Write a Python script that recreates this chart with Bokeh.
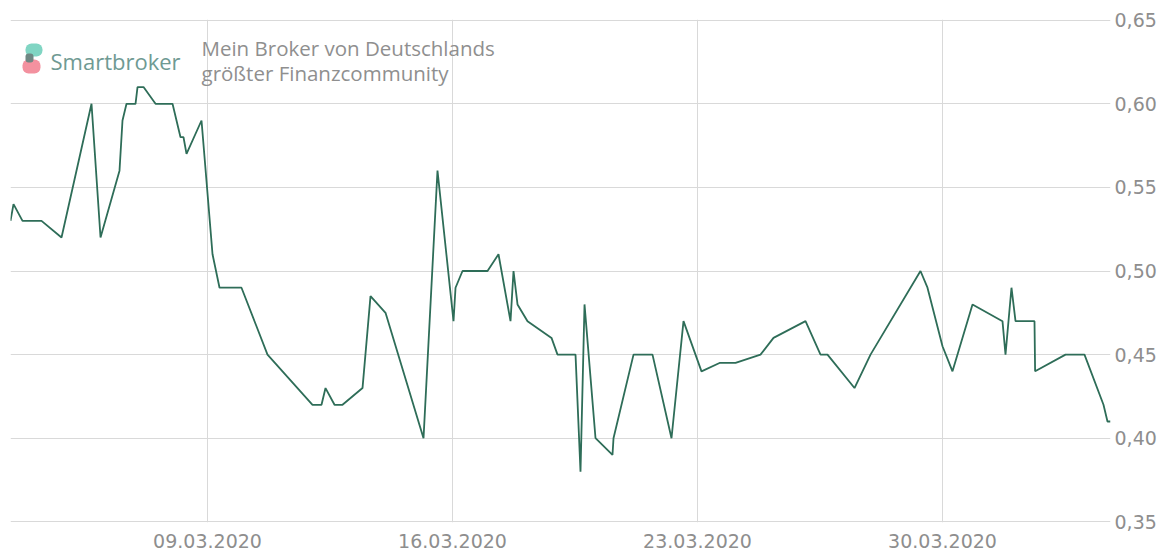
from bokeh.plotting import figure
from bokeh.models import (Range1d, FixedTicker, DatetimeTickFormatter, CustomJSTickFormatter,
                          Label, BoxAnnotation, ColumnDataSource)
from bokeh.embed import file_html
from bokeh.resources import INLINE
import pandas as pd

# ---- data ----
times = [
    "2020-03-03 08:54", "2020-03-03 10:58", "2020-03-03 17:08", "2020-03-04 06:10",
    "2020-03-04 19:53", "2020-03-05 16:27", "2020-03-05 22:38", "2020-03-06 11:39",
    "2020-03-06 13:42", "2020-03-06 16:27", "2020-03-06 22:38", "2020-03-07 00:00",
    "2020-03-07 04:07", "2020-03-07 12:21", "2020-03-08 00:00", "2020-03-08 05:29",
    "2020-03-08 07:32", "2020-03-08 09:36", "2020-03-08 19:53", "2020-03-09 03:26",
    "2020-03-09 08:14", "2020-03-09 23:18", "2020-03-10 17:08", "2020-03-12 00:00",
    "2020-03-12 06:10", "2020-03-12 08:55", "2020-03-12 15:05", "2020-03-12 20:34",
    "2020-03-13 10:17", "2020-03-13 15:46", "2020-03-14 02:04", "2020-03-15 04:07",
    "2020-03-15 13:42", "2020-03-16 00:41", "2020-03-16 02:04", "2020-03-16 06:51",
    "2020-03-17 00:00", "2020-03-17 07:32", "2020-03-17 15:46", "2020-03-17 17:50",
    "2020-03-17 20:34", "2020-03-18 03:26", "2020-03-18 19:53", "2020-03-19 00:00",
    "2020-03-19 12:21", "2020-03-19 15:46", "2020-03-19 18:31", "2020-03-20 02:04",
    "2020-03-20 13:42", "2020-03-20 14:24", "2020-03-21 04:07", "2020-03-21 17:08",
    "2020-03-22 06:10", "2020-03-22 14:24", "2020-03-23 02:44", "2020-03-23 15:05",
    "2020-03-24 02:04", "2020-03-24 19:12", "2020-03-25 04:07", "2020-03-26 02:04",
    "2020-03-26 12:21", "2020-03-26 17:08", "2020-03-27 11:39", "2020-03-27 22:38",
    "2020-03-29 08:54", "2020-03-29 13:42", "2020-03-30 00:00", "2020-03-30 06:51",
    "2020-03-30 20:34", "2020-03-31 17:08", "2020-03-31 19:12", "2020-03-31 23:18",
    "2020-04-01 02:04", "2020-04-01 15:05", "2020-04-01 15:30", "2020-04-02 12:21",
    "2020-04-03 01:22", "2020-04-03 14:24", "2020-04-03 17:08", "2020-04-03 19:12",
]
prices = [
    0.53, 0.54, 0.53, 0.53,
    0.52, 0.60, 0.52, 0.56,
    0.59, 0.60, 0.60, 0.61,
    0.61, 0.60, 0.60, 0.58,
    0.58, 0.57, 0.59, 0.51,
    0.49, 0.49, 0.45, 0.42,
    0.42, 0.43, 0.42, 0.42,
    0.43, 0.485, 0.475, 0.40,
    0.56, 0.47, 0.49, 0.50,
    0.50, 0.51, 0.47, 0.50,
    0.48, 0.47, 0.46, 0.45,
    0.45, 0.38, 0.48, 0.40,
    0.39, 0.40, 0.45, 0.45,
    0.40, 0.47, 0.44, 0.445,
    0.445, 0.45, 0.46, 0.47,
    0.45, 0.45, 0.43, 0.45,
    0.50, 0.49, 0.455, 0.44,
    0.48, 0.47, 0.45, 0.49,
    0.47, 0.47, 0.44, 0.45,
    0.45, 0.42, 0.41, 0.41,
]
x_tick_dates = ["2020-03-09", "2020-03-16", "2020-03-23", "2020-03-30"]
y_tick_values = [0.35, 0.40, 0.45, 0.50, 0.55, 0.60, 0.65]
brand_name = "Smartbroker"
tagline_lines = ["Mein Broker von Deutschlands", "größter Finanzcommunity"]

# ---- figure ----
t = pd.to_datetime(times)
src = ColumnDataSource(dict(t=t, price=prices))

pad = 0.0004  # keeps the outermost grid lines fully inside the frame
p = figure(width=1160, height=550, x_axis_type="datetime", y_axis_location="right",
           output_backend="svg", toolbar_location=None,
           x_range=Range1d(t[0].to_pydatetime(), t[-1].to_pydatetime()),
           y_range=Range1d(y_tick_values[0] - pad, y_tick_values[-1] + pad),
           min_border_left=10, min_border_right=50, min_border_top=19, min_border_bottom=27)
p.outline_line_color = None
p.background_fill_color = "white"
p.border_fill_color = "white"

label_color = "#8e8e8e"
grid_color = "#d9d9d9"

xa = p.xaxis[0]
xa.ticker = FixedTicker(ticks=[pd.Timestamp(d).value // 10**6 for d in x_tick_dates])
fmt = "%d.%m.%Y"
xa.formatter = DatetimeTickFormatter(microseconds=fmt, milliseconds=fmt, seconds=fmt, minsec=fmt,
                                     minutes=fmt, hourmin=fmt, hours=fmt, days=fmt, months=fmt, years=fmt)
ya = p.yaxis[0]
ya.ticker = FixedTicker(ticks=y_tick_values)
ya.formatter = CustomJSTickFormatter(code="return tick.toFixed(2).replace('.', ',');")

for ax in (xa, ya):
    ax.axis_line_color = None
    ax.major_tick_line_color = None
    ax.minor_tick_line_color = None
    ax.major_tick_out = 0
    ax.major_tick_in = 0
    ax.minor_tick_out = 0
    ax.minor_tick_in = 0
    ax.major_label_text_font = "DejaVu Sans"
    ax.major_label_text_font_size = "19px"
    ax.major_label_text_color = label_color
    ax.major_label_text_line_height = 1.0
xa.major_label_standoff = 11
ya.major_label_standoff = 4

p.xgrid.grid_line_color = grid_color
p.ygrid.grid_line_color = grid_color
p.xgrid.grid_line_width = 1
p.ygrid.grid_line_width = 1

p.line("t", "price", source=src, line_color="#2e6d58", line_width=1.8)

# ---- logo / branding (screen units, relative to the plot frame) ----
def box(l, r, tp, b, color, rad):
    return BoxAnnotation(left=l, right=r, top=tp, bottom=b, left_units="screen",
                         right_units="screen", top_units="screen", bottom_units="screen",
                         fill_color=color, fill_alpha=1.0, line_color=None, border_radius=rad)

p.add_layout(box(15, 32, 479, 466, "#80d5c3", 6))
p.add_layout(box(12, 30, 463, 449, "#f3919f", 6))
p.add_layout(box(15, 23, 469, 460, "#6f8783", 3))
p.add_layout(Label(x=40, y=462, x_units="screen", y_units="screen", text=brand_name,
                   text_font="Open Sans", text_font_size="22px", text_color="#6f9a93",
                   text_baseline="alphabetic"))
p.add_layout(Label(x=191, y=475, x_units="screen", y_units="screen", text=tagline_lines[0],
                   text_font="Open Sans", text_font_size="20.5px", text_color="#8f8f8f",
                   text_baseline="alphabetic"))
p.add_layout(Label(x=191, y=450, x_units="screen", y_units="screen", text=tagline_lines[1],
                   text_font="Open Sans", text_font_size="20.5px", text_color="#8f8f8f",
                   text_baseline="alphabetic"))

open("out.html", "w").write(file_html(p, INLINE))
